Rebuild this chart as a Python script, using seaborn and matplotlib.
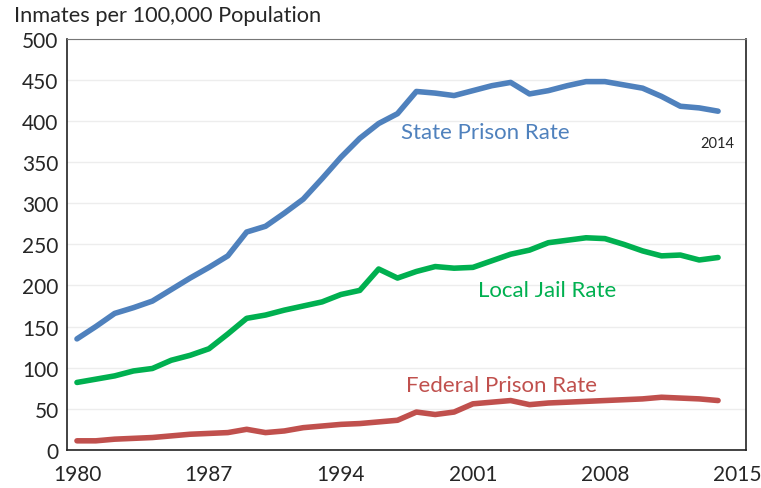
import numpy as np
import pandas as pd
import matplotlib
matplotlib.use("Agg")
import matplotlib.pyplot as plt
import seaborn as sns

years = list(range(1980, 2015))
state_prison = [135, 150, 166, 173, 181, 195, 209, 222, 236, 265,
                272, 288, 305, 330, 356, 379, 397, 409, 436, 434,
                431, 437, 443, 447, 433, 437, 443, 448, 448, 444,
                440, 430, 418, 416, 412]
local_jail = [82, 86, 90, 96, 99, 109, 115, 123, 141, 160,
              164, 170, 175, 180, 189, 194, 220, 209, 217, 223,
              221, 222, 230, 238, 243, 252, 255, 258, 257, 250,
              242, 236, 237, 231, 234]
federal_prison = [11, 11, 13, 14, 15, 17, 19, 20, 21, 25,
                  21, 23, 27, 29, 31, 32, 34, 36, 46, 43,
                  46, 56, 58, 60, 55, 57, 58, 59, 60, 61,
                  62, 64, 63, 62, 60]

series_names = ["State Prison Rate", "Local Jail Rate", "Federal Prison Rate"]
colors = {"State Prison Rate": "#4f81bd", "Local Jail Rate": "#00b050",
          "Federal Prison Rate": "#c0504d"}
x_ticks = [1980, 1987, 1994, 2001, 2008, 2015]
y_ticks = [0, 50, 100, 150, 200, 250, 300, 350, 400, 450, 500]

df = pd.DataFrame({
    "year": years * 3,
    "rate": state_prison + local_jail + federal_prison,
    "series": [s for s in series_names for _ in years],
})

sns.set_style("white")
plt.rcParams["font.family"] = ["Lato", "DejaVu Sans"]

fig = plt.figure(figsize=(7.61, 4.89), dpi=100)
ax = fig.add_axes([0.088, 0.078, 0.892, 0.8405])
sns.lineplot(data=df, x="year", y="rate", hue="series", palette=colors,
             linewidth=4, legend=False, ax=ax)

# category-style axis: half a year of padding on each side
ax.set_xlim(1979.47, 2015.47)
ax.set_ylim(0, 500)
ax.set_xticks(x_ticks)
ax.set_xticks([t - 0.5 for t in x_ticks], minor=True)
ax.set_yticks(y_ticks)
ax.grid(axis="y", color="#ededed", linewidth=1)
ax.set_axisbelow(True)
ax.tick_params(axis="x", which="major", length=0, pad=10,
               labelsize=15, labelcolor="#262626")
ax.tick_params(axis="x", which="minor", direction="in", length=5, width=1,
               color="#333333")
ax.tick_params(axis="y", direction="in", length=5, width=1, color="#333333",
               labelsize=15, labelcolor="#262626", pad=6)
for side in ["left", "bottom", "right"]:
    ax.spines[side].set_color("#222222")
    ax.spines[side].set_linewidth(1.2)
ax.spines["top"].set_color("#777777")
ax.set_xlabel("")
ax.set_ylabel("")

ax.text(1997.2, 387, "State Prison Rate", color=colors["State Prison Rate"],
        fontsize=16, va="center", ha="left")
ax.text(2001.25, 195, "Local Jail Rate", color=colors["Local Jail Rate"],
        fontsize=16, va="center", ha="left")
ax.text(1997.45, 79, "Federal Prison Rate", color=colors["Federal Prison Rate"],
        fontsize=16, va="center", ha="left")
ax.text(2013.95, 373, "2014", color="#262626", fontsize=10.5, va="center", ha="center")

fig.text(14 / 761, 1 - 16 / 489, "Inmates per 100,000 Population", color="#262626",
         fontsize=15.7, va="center", ha="left")

fig.savefig("out.png", dpi=100)
